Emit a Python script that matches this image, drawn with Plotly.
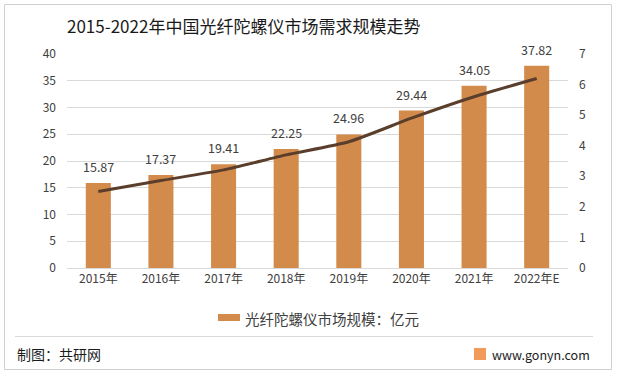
import plotly.graph_objects as go

years = ["2015年", "2016年", "2017年", "2018年", "2019年", "2020年", "2021年", "2022年E"]
market = [15.87, 17.37, 19.41, 22.25, 24.96, 29.44, 34.05, 37.82]
trend = [2.50, 2.86, 3.21, 3.70, 4.13, 4.90, 5.60, 6.20]
left_ticks = [0, 5, 10, 15, 20, 25, 30, 35, 40]
right_ticks = [0, 1, 2, 3, 4, 5, 6, 7]
legend_label = "光纤陀螺仪市场规模：亿元"

FONT = "Microsoft YaHei, Noto Sans CJK SC, sans-serif"
TXT = "#404040"
BAR = "#D38B4C"
W, H = 621, 376
L, R, T, B = 67, 53, 54, 108
PW, PH = W - L - R, H - T - B


def fx(p):
    return (p - L) / PW


def fy(p):
    return (H - B - p) / PH


fig = go.Figure()
fig.add_trace(go.Bar(
    x=years, y=market, name=legend_label, showlegend=False,
    marker=dict(color=BAR, line=dict(width=0)),
    width=0.4, hoverinfo="skip",
))
fig.add_trace(go.Scatter(
    x=years, y=trend, yaxis="y2", mode="lines", showlegend=False,
    line=dict(color="#5A3E2B", width=3, shape="spline", smoothing=0.6),
    hoverinfo="skip",
))

for xv, v in zip(years, market):
    fig.add_annotation(x=xv, y=v, xref="x", yref="y", text=f"{v:.2f}",
                       yanchor="bottom", yshift=5, showarrow=False,
                       font=dict(size=12.5, color=TXT, family=FONT))

fig.update_layout(
    width=W, height=H,
    margin=dict(l=L, r=R, t=T, b=B),
    paper_bgcolor="white", plot_bgcolor="white",
    font=dict(family=FONT, color=TXT, size=12),
    title=dict(text="2015-2022年中国光纤陀螺仪市场需求规模走势",
               x=67 / W, xanchor="left", xref="container",
               y=1 - 27 / H, yanchor="middle", yref="container",
               font=dict(size=17, color="#1a1a1a", family=FONT)),
    xaxis=dict(showgrid=False, showline=True, linecolor="#d9d9d9", linewidth=1,
               ticks="", tickfont=dict(size=12, color=TXT)),
    yaxis=dict(range=[0, 40], tickvals=left_ticks, showgrid=True, gridcolor="#d9d9d9",
               gridwidth=1, zeroline=False, showline=False, ticks="", ticklabelstandoff=10,
               tickfont=dict(size=12, color=TXT)),
    yaxis2=dict(range=[0, 7], tickvals=right_ticks, overlaying="y", side="right",
                showgrid=False, zeroline=False, showline=False, ticks="", ticklabelstandoff=10,
                tickfont=dict(size=12, color=TXT)),
    showlegend=False,
)

# outer border
fig.add_shape(type="rect", xref="paper", yref="paper",
              x0=fx(4.5), x1=fx(611.5), y0=fy(369.5), y1=fy(4.5),
              line=dict(color="#d0d0d0", width=1), layer="below")
# separator
fig.add_shape(type="line", xref="paper", yref="paper",
              x0=fx(15), x1=fx(593), y0=fy(336.5), y1=fy(336.5),
              line=dict(color="#d9d9d9", width=1))
# legend marker
fig.add_shape(type="rect", xref="paper", yref="paper",
              x0=fx(218), x1=fx(240), y0=fy(321), y1=fy(314),
              fillcolor=BAR, line=dict(width=0))
fig.add_annotation(text=legend_label, xref="paper", yref="paper",
                   x=fx(243), xanchor="left", y=fy(318), yanchor="middle",
                   showarrow=False, font=dict(size=14.5, color=TXT, family=FONT))
# logo
fig.add_shape(type="rect", xref="paper", yref="paper",
              x0=fx(474), x1=fx(486), y0=fy(360), y1=fy(348),
              fillcolor="#F29A5A", line=dict(width=0))

fig.add_annotation(text="制图：共研网", xref="paper", yref="paper",
                   x=fx(15), xanchor="left", y=fy(354), yanchor="middle",
                   showarrow=False, font=dict(size=14, color="#1a1a1a", family=FONT))
fig.add_annotation(text="www.gonyn.com", xref="paper", yref="paper",
                   x=fx(490), xanchor="left", y=fy(354), yanchor="middle",
                   showarrow=False, font=dict(size=12.5, color="#1a1a1a", family=FONT))

fig.write_html("out.html", config={"displayModeBar": False},
               post_script="document.body.style.margin='0';document.body.style.overflow='hidden';")
